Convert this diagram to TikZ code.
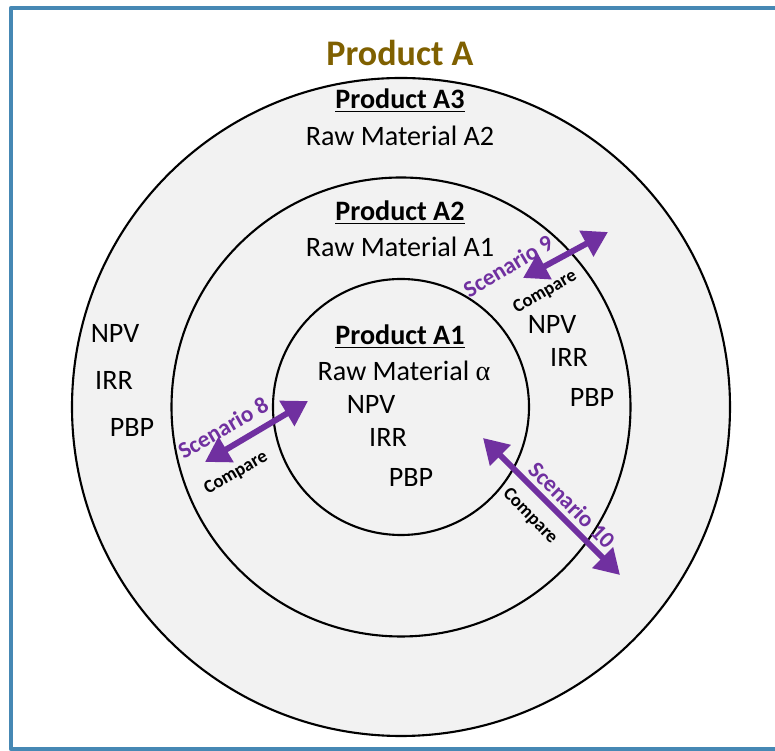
\documentclass[tikz,border=0pt]{standalone}
\usepackage{fontspec}
\setmainfont{Carlito}
\newfontfamily\alphafont{Liberation Serif}
\usepackage{tikz}
\usetikzlibrary{arrows.meta}
\tikzset{
	ring/.style={black, line width=1.2pt, fill=RingFill},
	frameline/.style={FrameBlue, line width=2.4pt},
	scen/.style={ScenPurple, line width=3.4pt, {Triangle[length=14pt,width=16pt]}-{Triangle[length=14pt,width=16pt]}},
}
\definecolor{RingFill}{RGB}{242,242,242}
\definecolor{FrameBlue}{RGB}{70,136,180}
\definecolor{ScenPurple}{RGB}{112,48,160}
\definecolor{TitleBrown}{RGB}{127,96,0}

\begin{document}
\begin{tikzpicture}[
		line cap=round, line join=round,
		title/.style={font=\bfseries\fontsize{20.5}{24}\selectfont, text=TitleBrown},
		prod/.style={font=\bfseries\fontsize{16}{19}\selectfont},
		lbl/.style={font=\fontsize{16}{19}\selectfont},
		scentxt/.style={font=\bfseries\fontsize{13.2}{16}\selectfont, text=ScenPurple, inner sep=1pt},
		cmp/.style={font=\bfseries\fontsize{10.6}{12}\selectfont, inner sep=1pt},
		]
		
		\def\Rout{6.58}
		\def\Rmid{4.59}
		\def\Rin{2.56}
		
		\useasboundingbox (-8.02,-6.88) rectangle (7.48,8.14);
		
		% Frame (right side falls outside the page)
		\draw[frameline] (8.2,7.98) -- (-7.8,7.98) -- (-7.8,-6.84) -- (8.2,-6.84);
		
		% --- the three nested rings ---
		\draw[ring] (0,0) circle (\Rout);
		\draw[ring] (0,0) circle (\Rmid);
		\draw[ring] (0,0) circle (\Rin);
		
		% Titles
		\node[title] (prodA) at (-0.02,7.08) {Product A};
		
		\node[prod] (prodA3) at (-0.02,6.12) {\underline{Product A3}};
		\node[lbl]  (rawA2)  at (-0.02,5.42) {Raw Material A2};
		
		\node[prod] (prodA2) at (-0.02,3.88) {\underline{Product A2}};
		\node[lbl]  (rawA1)  at (-0.02,3.20) {Raw Material A1};
		
		\node[prod] (prodA1) at (-0.02,1.40) {\underline{Product A1}};
		\node[lbl]  (rawAl)  at (0.06,0.72) {Raw Material {\alphafont α}};
		
		% Indicators, inner circle
		\node[lbl] (npvIn) at (-0.60,0.06) {NPV};
		\node[lbl] (irrIn) at (-0.26,-0.60) {IRR};
		\node[lbl] (pbpIn) at (0.20,-1.40) {PBP};
		
		% Indicators, outer ring (left)
		\node[lbl] (npvOut) at (-5.72,1.48) {NPV};
		\node[lbl] (irrOut) at (-5.74,0.54) {IRR};
		\node[lbl] (pbpOut) at (-5.38,-0.40) {PBP};
		
		% Indicators, middle ring (right)
		\node[lbl] (npvMid) at (3.02,1.66) {NPV};
		\node[lbl] (irrMid) at (3.36,1.00) {IRR};
		\node[lbl] (pbpMid) at (3.82,0.20) {PBP};
		
		% --- Scenario arrows ---
		\coordinate (s8a) at (-3.92,-1.10);
		\coordinate (s8b) at (-1.86,0.12);
		\coordinate (s9a) at (2.44,2.58);
		\coordinate (s9b) at (4.14,3.50);
		\coordinate (s10a) at (1.64,-0.62);
		\coordinate (s10b) at (4.38,-3.36);
		
		\draw[scen] (s8a) -- (s8b);
		\draw[scen] (s9a) -- (s9b);
		\draw[scen] (s10a) -- (s10b);
		
		\node[scentxt, rotate=30] (scen8) at (-3.56,-0.42) {Scenario 8};
		\node[cmp, rotate=30] (cmp8) at (-3.30,-1.32) {Compare};
		
		\node[scentxt, rotate=31] (scen9) at (2.14,2.82) {Scenario 9};
		\node[cmp, rotate=30] (cmp9) at (2.88,2.30) {Compare};
		
		\node[scentxt, rotate=-45] (scen10) at (3.42,-1.96) {Scenario 10};
		\node[cmp, rotate=-46] (cmp10) at (2.58,-2.18) {Compare};
		
	\end{tikzpicture}
\end{document}
